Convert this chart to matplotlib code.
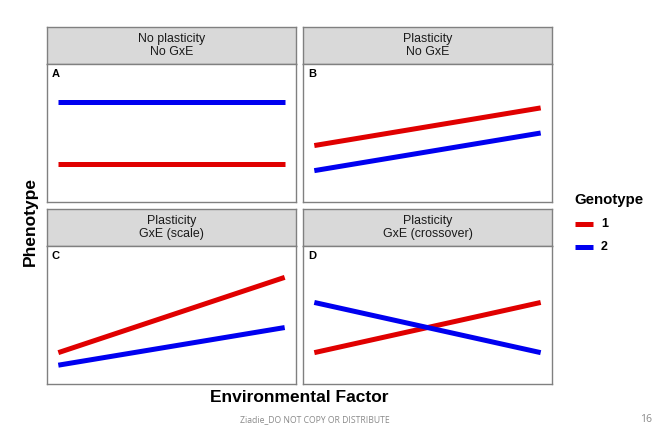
import matplotlib
matplotlib.use("Agg")
import matplotlib.pyplot as plt
from matplotlib.lines import Line2D

# ---- data ----
env = [0, 1]
panel_tags = ["A", "B", "C", "D"]
panel_titles = ["No plasticity\nNo GxE", "Plasticity\nNo GxE",
                "Plasticity\nGxE (scale)", "Plasticity\nGxE (crossover)"]
genotype1 = [[2.5, 2.5], [4, 7], [2, 8], [2, 6]]
genotype2 = [[7.5, 7.5], [2, 5], [1, 4], [6, 2]]
genotype_labels = ["1", "2"]
genotype_colors = ["#E00000", "#0000F0"]
y_limits = (0, 10)

W, H = 663, 433
fig = plt.figure(figsize=(W / 100, H / 100), dpi=100)
plt.rcParams['font.family'] = ['Liberation Sans', 'DejaVu Sans']

def px_axes(x0, y0, x1, y1):
    return fig.add_axes([x0 / W, (H - y1) / H, (x1 - x0) / W, (y1 - y0) / H])

panel_boxes = [(47, 64, 296, 202), (303, 64, 552, 202),
               (47, 246, 296, 384), (303, 246, 552, 384)]
strip_boxes = [(47, 27, 296, 64), (303, 27, 552, 64),
               (47, 209, 296, 246), (303, 209, 552, 246)]
border = "#808080"

for i in range(4):
    sx0, sy0, sx1, sy1 = strip_boxes[i]
    sax = px_axes(sx0, sy0, sx1, sy1)
    sax.set_facecolor("#D9D9D9")
    sax.set_xticks([]); sax.set_yticks([])
    for s in sax.spines.values():
        s.set_color(border); s.set_linewidth(1.0)
    sax.text(0.5, 0.5, panel_titles[i], ha="center", va="center",
             fontsize=8.9, color="#1a1a1a", linespacing=1.18,
             transform=sax.transAxes)

    ax = px_axes(*panel_boxes[i])
    ax.plot(env, genotype1[i], color=genotype_colors[0], lw=3.6,
            solid_capstyle="butt")
    ax.plot(env, genotype2[i], color=genotype_colors[1], lw=3.6,
            solid_capstyle="butt")
    ax.set_xlim(-0.05, 1.05)
    rng = y_limits[1] - y_limits[0]
    ax.set_ylim(y_limits[0] - 0.05 * rng, y_limits[1] + 0.05 * rng)
    ax.set_xticks([]); ax.set_yticks([])
    for s in ax.spines.values():
        s.set_color(border); s.set_linewidth(1.0)
    ax.text(5 / 249, 1 - 10 / 138, panel_tags[i], transform=ax.transAxes,
            ha="left", va="center", fontsize=8, fontweight="bold")

# axis titles
fig.text(210 / W, 1 - 398 / H, "Environmental Factor", ha="left", va="center",
         fontsize=12.5, fontweight="bold")
fig.text(30 / W, 1 - 222 / H, "Phenotype", ha="center", va="center",
         rotation=90, fontsize=12.5, fontweight="bold")

# legend
fig.text(574 / W, 1 - 200 / H, "Genotype", ha="left", va="center",
         fontsize=10.8, fontweight="bold")
leg_y = [224.5, 247]
for j in range(2):
    fig.add_artist(Line2D([575 / W, 593 / W], [1 - leg_y[j] / H] * 2,
                          color=genotype_colors[j], lw=3.6,
                          solid_capstyle="butt"))
    fig.text(601 / W, 1 - leg_y[j] / H, genotype_labels[j], ha="left",
             va="center", fontsize=9, fontweight="bold")

# footer
fig.text(240 / W, 1 - 420 / H, "Ziadie_DO NOT COPY OR DISTRIBUTE", ha="left",
         va="center", fontsize=6.2, color="#8a8a8a", family=["Open Sans", "DejaVu Sans"])
fig.text(652 / W, 1 - 420 / H, "16", ha="right", va="center",
         fontsize=7.5, color="#8a8a8a", family=["Open Sans", "DejaVu Sans"])

fig.savefig("out.png", dpi=100)
